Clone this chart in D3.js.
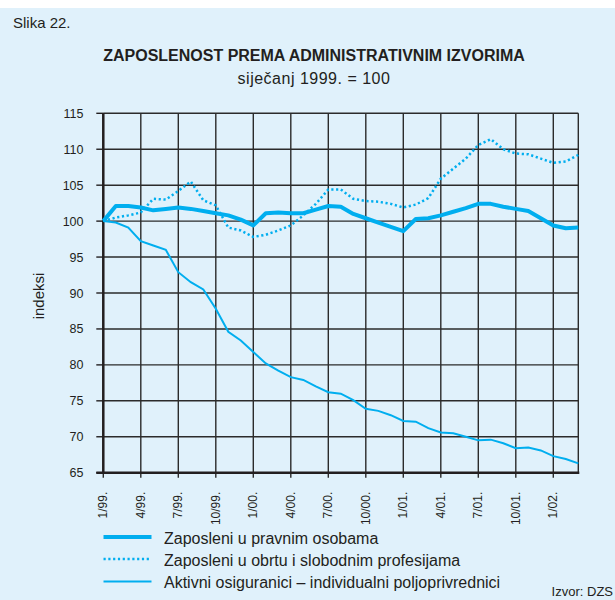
<!DOCTYPE html>
<html>
<head>
<meta charset="utf-8">
<script src="https://cdn.jsdelivr.net/npm/d3@7"></script>
<style>
  body { margin: 0; background: #fff; }
  svg { display: block; font-family: "Liberation Sans", Arial, sans-serif; }
</style>
</head>
<body>
<div id="chart"></div>
<script>
// months Jan 1999 .. Mar 2002 (index 0..38)
const tickLabels = ["1/99.", "4/99.", "7/99.", "10/99.", "1/00.", "4/00.", "7/00.", "10/00.", "1/01.", "4/01.", "7/01.", "10/01.", "1/02."];

const pravne = [100, 102.1, 102.1, 101.9, 101.5, 101.7, 101.9, 101.7, 101.4, 101.1, 100.8, 100.2, 99.4,
  101.1, 101.2, 101.1, 101.1, 101.6, 102.1, 102.0, 101.0, 100.4, 99.8, 99.2, 98.6,
  100.3, 100.4, 100.8, 101.3, 101.8, 102.4, 102.4, 102.0, 101.7, 101.4, 100.4, 99.4, 99.0, 99.1];

const obrt = [100, 100.5, 100.8, 101.2, 103.1, 103.0, 104.2, 105.5, 102.9, 102.2, 99.1, 98.7, 97.8,
  98.1, 98.7, 99.4, 100.8, 102.4, 104.4, 104.4, 103.1, 102.8, 102.7, 102.4, 101.9,
  102.3, 103.2, 105.9, 107.3, 108.7, 110.6, 111.4, 110.0, 109.4, 109.3, 108.7, 108.1, 108.3, 109.2];

const poljo = [100, 99.8, 99.1, 97.2, 96.6, 96.0, 92.9, 91.5, 90.5, 87.8, 84.6, 83.4, 81.8,
  80.2, 79.2, 78.3, 77.9, 77.0, 76.2, 76.0, 75.1, 73.9, 73.6, 73.0, 72.2,
  72.1, 71.2, 70.6, 70.5, 70.0, 69.5, 69.6, 69.1, 68.4, 68.5, 68.1, 67.3, 66.9, 66.3];

const legendNames = ["Zaposleni u pravnim osobama", "Zaposleni u obrtu i slobodnim profesijama", "Aktivni osiguranici – individualni poljoprivrednici"];

const yTicks = [65, 70, 75, 80, 85, 90, 95, 100, 105, 110, 115];

const width = 615, height = 600;
const blue = "#00aeef";
const ink = "#231f20";
const gridCol = "#2b2b2b";

const svg = d3.select("#chart").append("svg")
  .attr("width", width).attr("height", height);

svg.append("rect").attr("x", 0).attr("y", 8).attr("width", width).attr("height", height - 8)
  .attr("fill", "#e0f1fb");

const x = d3.scaleLinear().domain([0, 38]).range([103.3, 578.3]);
const y = d3.scaleLinear().domain([65, 115]).range([472.7, 113.3]);

svg.append("text").attr("x", 13).attr("y", 28).attr("font-size", 15).attr("fill", ink).text("Slika 22.");
svg.append("text").attr("x", 314).attr("y", 60.5).attr("text-anchor", "middle")
  .attr("font-size", 16).attr("font-weight", "bold").attr("fill", ink)
  .text("ZAPOSLENOST PREMA ADMINISTRATIVNIM IZVORIMA");
svg.append("text").attr("x", 314).attr("y", 84).attr("text-anchor", "middle")
  .attr("font-size", 16).attr("letter-spacing", 0.5).attr("fill", ink).text("siječanj 1999. = 100");

// grid
const g = svg.append("g");
g.selectAll(".hg").data(yTicks).enter().append("line")
  .attr("x1", x(0)).attr("x2", x(38))
  .attr("y1", d => y(d)).attr("y2", d => y(d))
  .attr("stroke", gridCol).attr("stroke-width", 1.4);
const qIdx = d3.range(0, 39, 3);
g.selectAll(".vg").data(qIdx).enter().append("line")
  .attr("x1", d => x(d)).attr("x2", d => x(d))
  .attr("y1", y(115)).attr("y2", y(65) + 5)
  .attr("stroke", gridCol).attr("stroke-width", 1.4);
// right border
g.append("line").attr("x1", x(38)).attr("x2", x(38)).attr("y1", y(115)).attr("y2", y(65))
  .attr("stroke", gridCol).attr("stroke-width", 1.4);
// y tick marks
g.selectAll(".yt").data(yTicks).enter().append("line")
  .attr("x1", x(0) - 7).attr("x2", x(0))
  .attr("y1", d => y(d)).attr("y2", d => y(d))
  .attr("stroke", ink).attr("stroke-width", 1.4);

// axes
g.append("line").attr("x1", x(0)).attr("x2", x(0)).attr("y1", y(115)).attr("y2", y(65))
  .attr("stroke", ink).attr("stroke-width", 2.5);
g.append("line").attr("x1", x(0) - 7).attr("x2", x(38) + 1).attr("y1", y(65)).attr("y2", y(65))
  .attr("stroke", ink).attr("stroke-width", 2.5);

// y labels
svg.selectAll(".yl").data(yTicks).enter().append("text")
  .attr("x", 83.5).attr("y", d => y(d) + 4.5).attr("text-anchor", "end")
  .attr("font-size", 12.5).attr("fill", ink).text(d => d);

svg.append("text").attr("transform", "translate(44,296) rotate(-90)")
  .attr("text-anchor", "middle").attr("font-size", 15).attr("fill", ink).text("indeksi");

// x labels
svg.selectAll(".xl").data(tickLabels).enter().append("text")
  .attr("transform", (d, i) => `translate(${x(i * 3) + 4},${y(65) + 19}) rotate(-90)`)
  .attr("text-anchor", "end").attr("font-size", 12).attr("fill", ink).text(d => d);

// lines
const line = d3.line().x((d, i) => x(i)).y(d => y(d));
svg.append("path").datum(poljo).attr("d", line).attr("fill", "none")
  .attr("stroke", blue).attr("stroke-width", 2);
svg.append("path").datum(obrt).attr("d", line).attr("fill", "none")
  .attr("stroke", blue).attr("stroke-width", 2.5).attr("stroke-dasharray", "2.2,2.6");
svg.append("path").datum(pravne).attr("d", line).attr("fill", "none")
  .attr("stroke", blue).attr("stroke-width", 4).attr("stroke-linejoin", "round");

// legend
const legY = [537, 559, 581.5];
const styles = [{w: 4, dash: null}, {w: 2.5, dash: "2.2,2.6"}, {w: 2, dash: null}];
legendNames.forEach((name, i) => {
  svg.append("line").attr("x1", 103.5).attr("x2", 151.5).attr("y1", legY[i]).attr("y2", legY[i])
    .attr("stroke", blue).attr("stroke-width", styles[i].w)
    .attr("stroke-dasharray", styles[i].dash);
  svg.append("text").attr("x", 164).attr("y", legY[i] + 6.5).attr("font-size", 16)
    .attr("fill", ink).text(name);
});

svg.append("text").attr("x", 613).attr("y", 596).attr("text-anchor", "end")
  .attr("font-size", 13).attr("fill", ink).text("Izvor: DZS");
</script>
</body>
</html>
